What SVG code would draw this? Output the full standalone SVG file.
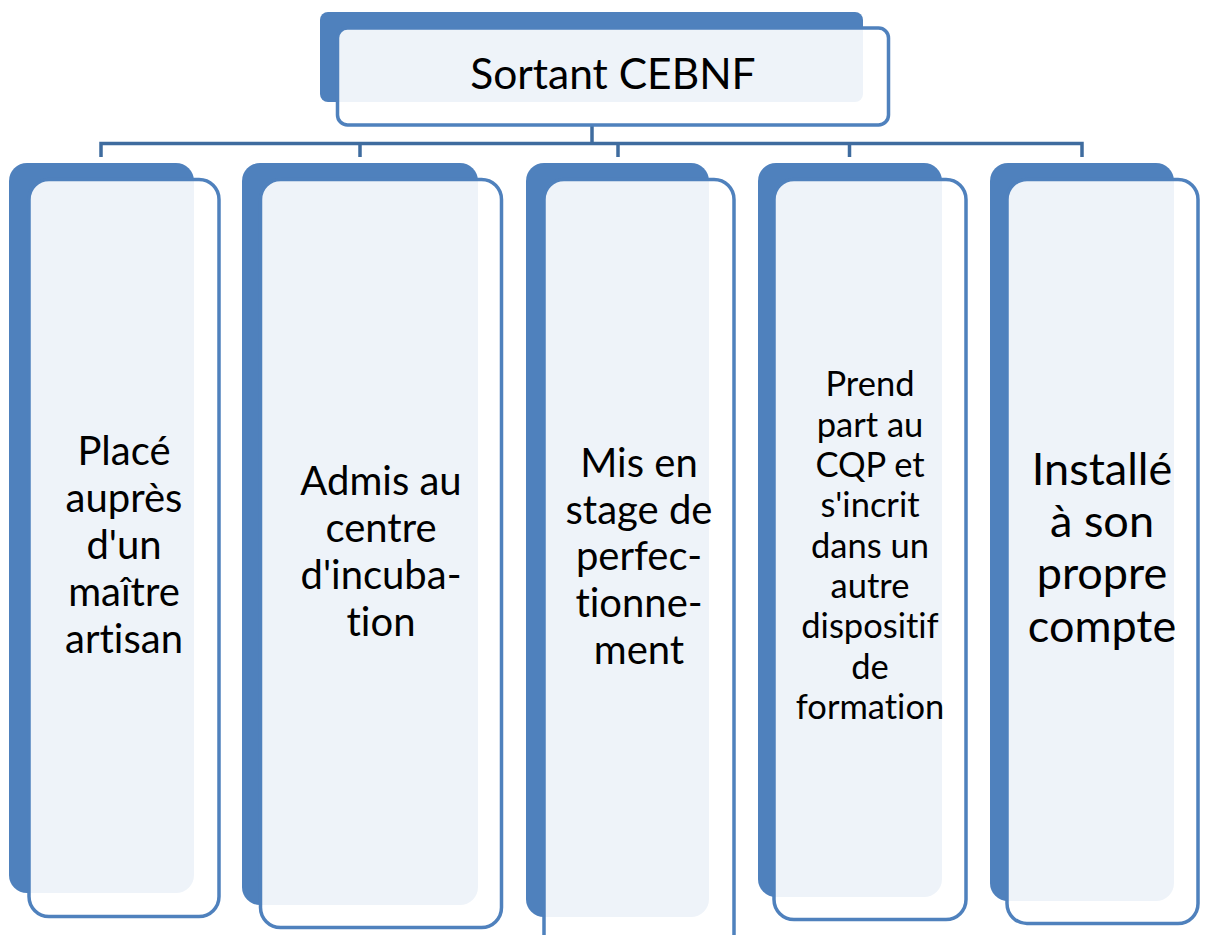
<svg xmlns="http://www.w3.org/2000/svg" width="1206" height="935" viewBox="0 0 1206 935">
<style>
.back{fill:#4F81BD;}
.front{fill:#FFFFFF;fill-opacity:0.9;stroke:#4F81BD;stroke-width:3.5;}
.conn{fill:none;stroke:#3F6C9F;stroke-width:3.5;stroke-linejoin:miter;}
text{font-family:Lato,"Liberation Sans",sans-serif;fill:#000;text-anchor:middle;font-variant-ligatures:none;font-feature-settings:"liga" 0;}
.t1{font-size:40px;}
.t4{font-size:34.5px;}
.t5{font-size:45px;}
.tt{font-size:42.5px;}
</style>
<rect x="0" y="0" width="1206" height="935" fill="#FFFFFF"/>
<g id="connectors">
<path class="conn" d="M592,125 V143.5 M101,157 V143.5 H1082 V157 M360,143.5 V157 M618,143.5 V157 M849.5,143.5 V157"/>
</g>
<g id="node-root">
<rect class="back" x="320" y="12" width="543" height="90" rx="8"/>
<rect class="front" x="337.5" y="28" width="551" height="97" rx="10"/>
<text class="tt" x="613" y="89">Sortant CEBNF</text>
</g>
<g id="node-1">
<rect class="back" x="9" y="163" width="185" height="730" rx="18"/>
<rect class="front" x="29" y="179.5" width="190" height="737" rx="20"/>
<text class="t1" x="124"><tspan x="124" y="465">Placé</tspan><tspan x="124" y="512">auprès</tspan><tspan x="124" y="559">d'un</tspan><tspan x="124" y="606">maître</tspan><tspan x="124" y="653">artisan</tspan></text>
</g>
<g id="node-2">
<rect class="back" x="242" y="163" width="236" height="742" rx="18"/>
<rect class="front" x="260.5" y="179.5" width="241" height="748" rx="20"/>
<text class="t1" x="381"><tspan x="381" y="495">Admis au</tspan><tspan x="381" y="542">centre</tspan><tspan x="381" y="589">d'incuba-</tspan><tspan x="381" y="636">tion</tspan></text>
</g>
<g id="node-3">
<rect class="back" x="526" y="163" width="183" height="754" rx="18"/>
<rect class="front" x="544" y="179.5" width="190" height="775" rx="20"/>
<text class="t1" x="639"><tspan x="639" y="477">Mis en</tspan><tspan x="639" y="524">stage de</tspan><tspan x="639" y="570">perfec-</tspan><tspan x="639" y="617">tionne-</tspan><tspan x="639" y="664">ment</tspan></text>
</g>
<g id="node-4">
<rect class="back" x="758" y="163" width="184" height="734" rx="18"/>
<rect class="front" x="774" y="179.5" width="192" height="740" rx="20"/>
<text class="t4" x="870"><tspan x="870" y="396">Prend</tspan><tspan x="870" y="437">part au</tspan><tspan x="870" y="477">CQP et</tspan><tspan x="870" y="517">s'incrit</tspan><tspan x="870" y="558">dans un</tspan><tspan x="870" y="598">autre</tspan><tspan x="870" y="638">dispositif</tspan><tspan x="870" y="679">de</tspan><tspan x="870" y="719">formation</tspan></text>
</g>
<g id="node-5">
<rect class="back" x="990" y="163" width="184" height="738" rx="18"/>
<rect class="front" x="1007" y="179.5" width="191" height="744" rx="20"/>
<text class="t5" x="1102"><tspan x="1102" y="485">Installé</tspan><tspan x="1102" y="537">à son</tspan><tspan x="1102" y="589">propre</tspan><tspan x="1102" y="642">compte</tspan></text>
</g>
</svg>
